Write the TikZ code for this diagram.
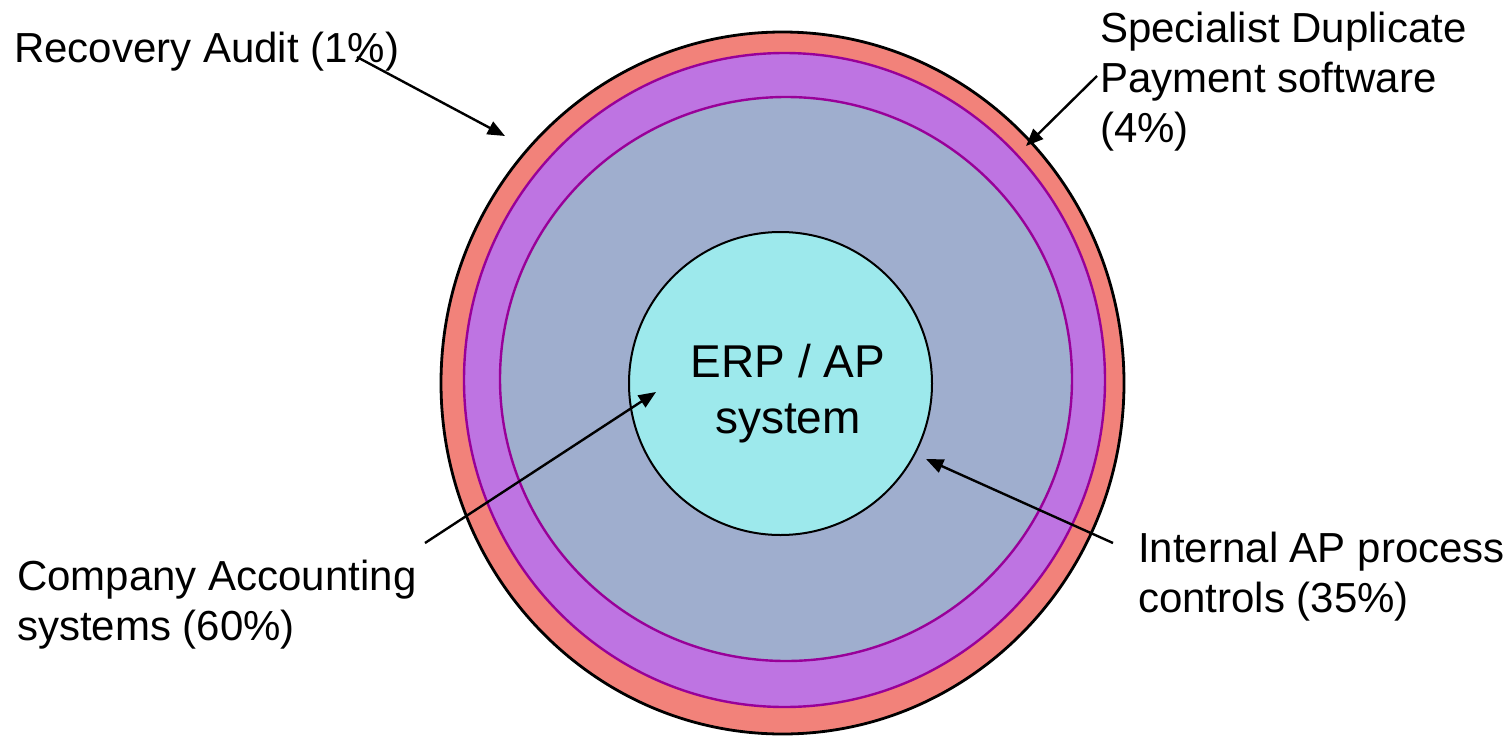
\documentclass[tikz,border=0pt]{standalone}
\usepackage{fontspec}
\setmainfont{Liberation Sans}
\usetikzlibrary{shapes.geometric,arrows.meta}
\definecolor{auditred}{HTML}{F2827A}
\definecolor{duppurple}{HTML}{BE74E2}
\definecolor{ringline}{HTML}{990099}
\definecolor{ctrlblue}{HTML}{9FAECE}
\definecolor{erpcyan}{HTML}{9DE9EC}
\tikzset{
  ring/.style={ellipse, inner sep=0pt},
  % multi-line labels: base anchor sits on the last line's baseline
  lbl/.style={anchor=base west, align=left, inner sep=0pt,
    font=\fontsize{31.5}{37.5}\selectfont},
  pointer/.style={line width=1.8pt, -{Triangle[length=13pt,width=10.5pt]}},
}
\begin{document}
\begin{tikzpicture}[x=0.75pt,y=-0.75pt]
\useasboundingbox (0,0) rectangle (1511,736);
% nested rings, outermost first
\node[ring, draw=black, line width=2.1pt, fill=auditred,
  minimum width=683*0.75pt, minimum height=702*0.75pt] (audit) at (782.5,383) {};
\node[ring, draw=ringline, line width=1.8pt, fill=duppurple,
  minimum width=641*0.75pt, minimum height=654*0.75pt] (dup) at (784.5,380) {};
\node[ring, draw=ringline, line width=1.8pt, fill=ctrlblue,
  minimum width=572*0.75pt, minimum height=564*0.75pt] (ctrl) at (786,379) {};
\node[circle, inner sep=0pt, draw=black, line width=1.5pt, fill=erpcyan,
  minimum size=303*0.75pt] (erp) at (780.5,383.5) {};
\node[align=center, inner sep=0pt, font=\fontsize{34.5}{42}\selectfont,
  anchor=base] (erptext) at (788,433) {ERP / AP\\system};
% labels
\node[lbl] (lrec) at (14,62) {Recovery Audit (1\%)};
\node[lbl] (lspec) at (1100,142) {Specialist Duplicate\\Payment software\\(4\%)};
\node[lbl] (lcomp) at (17,640) {Company Accounting\\systems (60\%)};
\node[lbl] (lint) at (1138,612) {Internal AP process\\controls (35\%)};
% pointer ends
\coordinate (recA) at (357,57);
\coordinate (recB) at (505,136);
\coordinate (specA) at (1097,76);
\coordinate (specB) at (1026,146);
\coordinate (compA) at (425,543);
\coordinate (compB) at (656,392);
\coordinate (intA) at (1113,543);
\coordinate (intB) at (926,459);
\draw[pointer] (recA) -- (recB);
\draw[pointer] (specA) -- (specB);
\draw[pointer] (compA) -- (compB);
\draw[pointer] (intA) -- (intB);
\end{tikzpicture}
\end{document}
